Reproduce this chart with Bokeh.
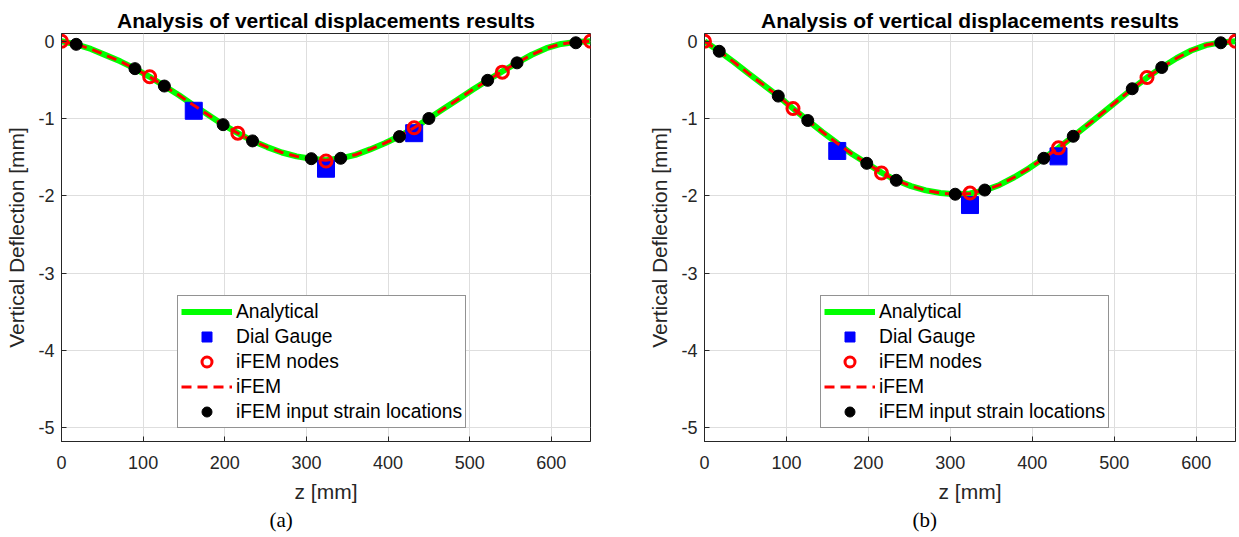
from bokeh.plotting import figure
from bokeh.layouts import row
from bokeh.models import FixedTicker, Title
from bokeh.embed import file_html
from bokeh.resources import INLINE

# ---------------- data ----------------
z_curve = [0, 18, 36, 54, 72, 90, 108, 126, 144, 162, 180, 198, 216, 234, 252, 270, 288,
           306, 324, 342, 360, 378, 396, 414, 432, 450, 468, 486, 504, 522, 540, 558,
           576, 594, 612, 630, 648]

analytical_a = [0, -0.04, -0.10, -0.18, -0.26, -0.355, -0.46, -0.58, -0.70, -0.83, -0.955,
                -1.08, -1.19, -1.29, -1.37, -1.44, -1.49, -1.52, -1.54, -1.515, -1.47,
                -1.40, -1.32, -1.23, -1.12, -1.00, -0.875, -0.75, -0.625, -0.505, -0.39,
                -0.28, -0.175, -0.09, -0.035, -0.01, 0]
ifem_a = [0, -0.04, -0.10, -0.18, -0.26, -0.355, -0.46, -0.58, -0.70, -0.83, -0.955,
          -1.08, -1.19, -1.29, -1.37, -1.44, -1.49, -1.52, -1.54, -1.515, -1.47,
          -1.40, -1.32, -1.23, -1.12, -1.00, -0.875, -0.75, -0.625, -0.505, -0.39,
          -0.28, -0.175, -0.09, -0.035, -0.01, 0]

analytical_b = [0, -0.13, -0.27, -0.42, -0.565, -0.71, -0.87, -1.025, -1.175, -1.32, -1.46,
                -1.58, -1.70, -1.80, -1.875, -1.93, -1.965, -1.98, -1.97, -1.93, -1.86,
                -1.76, -1.645, -1.515, -1.38, -1.23, -1.08, -0.925, -0.77, -0.615, -0.47,
                -0.34, -0.22, -0.12, -0.05, -0.015, 0]
ifem_b = [0, -0.13, -0.27, -0.42, -0.565, -0.71, -0.87, -1.025, -1.175, -1.32, -1.46,
          -1.58, -1.70, -1.80, -1.875, -1.93, -1.965, -1.98, -1.97, -1.93, -1.86,
          -1.76, -1.645, -1.515, -1.38, -1.23, -1.08, -0.925, -0.77, -0.615, -0.47,
          -0.34, -0.22, -0.12, -0.05, -0.015, 0]

z_nodes = [0, 108, 216, 324, 432, 540, 648]
nodes_a = [0, -0.46, -1.19, -1.55, -1.12, -0.40, 0]
nodes_b = [0, -0.87, -1.705, -1.965, -1.38, -0.47, 0]

z_strain = [18, 90, 126, 198, 234, 306, 342, 414, 450, 522, 558, 630]
strain_a = [-0.04, -0.355, -0.58, -1.08, -1.29, -1.52, -1.515, -1.234, -1.00, -0.506, -0.28, -0.02]
strain_b = [-0.13, -0.71, -1.026, -1.58, -1.80, -1.98, -1.926, -1.515, -1.23, -0.615, -0.34, -0.02]

z_dial = [162, 324, 432]
dial_a = [-0.90, -1.65, -1.19]
dial_b = [-1.42, -2.12, -1.49]

x_ticks = [0, 100, 200, 300, 400, 500, 600]
y_ticks = [0, -1, -2, -3, -4, -5]
y_tick_labels = ["0", "-1", "-2", "-3", "-4", "-5"]

title_text = "Analysis of vertical displacements results"
x_label = "z [mm]"
y_label = "Vertical Deflection [mm]"

FONT = "Liberation Sans"
AXC = "#262626"


def make_fig(analytical, ifem, nodes, strain, dial, caption, left_border, frame_w, right_border):
    p = figure(frame_width=frame_w, frame_height=408,
               min_border_left=left_border, min_border_right=right_border,
               min_border_top=33, min_border_bottom=96,
               x_range=(0, 648), y_range=(-5.18, 0.1),
               output_backend="svg", toolbar_location=None,
               background_fill_color="white", border_fill_color="white")

    p.title.text = title_text
    p.title.align = "center"
    p.title.text_font = FONT
    p.title.text_font_size = "21px"
    p.title.text_font_style = "bold"
    p.title.text_color = "black"
    p.title.standoff = 4

    p.outline_line_color = AXC
    p.outline_line_width = 1

    for ax in (p.xaxis, p.yaxis):
        ax.axis_line_color = AXC
        ax.major_tick_line_color = AXC
        ax.major_tick_in = 5
        ax.major_tick_out = 0
        ax.minor_tick_line_color = None
        ax.major_label_text_font = FONT
        ax.major_label_text_font_size = "18px"
        ax.major_label_text_color = AXC
        ax.axis_label_text_font = FONT
        ax.axis_label_text_font_size = "21px"
        ax.axis_label_text_font_style = "normal"
        ax.axis_label_text_color = AXC

    p.xaxis.ticker = FixedTicker(ticks=x_ticks)
    p.yaxis.ticker = FixedTicker(ticks=y_ticks)
    p.yaxis.major_label_overrides = {t: s for t, s in zip(y_ticks, y_tick_labels)}
    p.xaxis.axis_label = x_label
    p.yaxis.axis_label = y_label
    p.xaxis.major_label_standoff = 14
    p.yaxis.major_label_standoff = 7
    p.xaxis.axis_label_standoff = 8
    p.yaxis.axis_label_standoff = 7

    p.xgrid.grid_line_color = "#dedede"
    p.ygrid.grid_line_color = "#dedede"

    p.line(z_curve, analytical, line_color="#00ff00", line_width=6, legend_label="Analytical")
    p.scatter(z_dial, dial, marker="square", size=17, fill_color="#0000ff",
              line_color="#0000ff", legend_label="Dial Gauge")
    p.scatter(z_nodes, nodes, marker="circle", size=12, fill_color=None,
              line_color="#ff0000", line_width=3, legend_label="iFEM nodes")
    p.line(z_curve, ifem, line_color="#ff0000", line_width=3, line_dash="10 6",
           legend_label="iFEM")
    p.scatter(z_strain, strain, marker="circle", size=12, fill_color="black",
              line_color="black", legend_label="iFEM input strain locations")

    lg = p.legend[0]
    lg.location = (116, 13)
    lg.label_text_font = FONT
    lg.label_text_font_size = "19.3px"
    lg.label_text_color = "black"
    lg.border_line_color = AXC
    lg.border_line_width = 1
    lg.background_fill_alpha = 1
    lg.padding = 3
    lg.spacing = 0
    lg.margin = 0
    lg.glyph_width = 51
    lg.glyph_height = 25
    lg.label_height = 25
    lg.label_standoff = 4

    cap = Title(text=caption, align="left", offset=208, text_font="Liberation Serif",
                text_font_size="21px", text_font_style="normal", text_color="black",
                standoff=1)
    p.add_layout(cap, "below")
    return p


p1 = make_fig(analytical_a, ifem_a, nodes_a, strain_a, dial_a, "(a)", 61, 529, 30)
p2 = make_fig(analytical_b, ifem_b, nodes_b, strain_b, dial_b, "(b)", 84, 531, 4)

layout = row(p1, p2)
open("out.html", "w").write(file_html(layout, INLINE))
